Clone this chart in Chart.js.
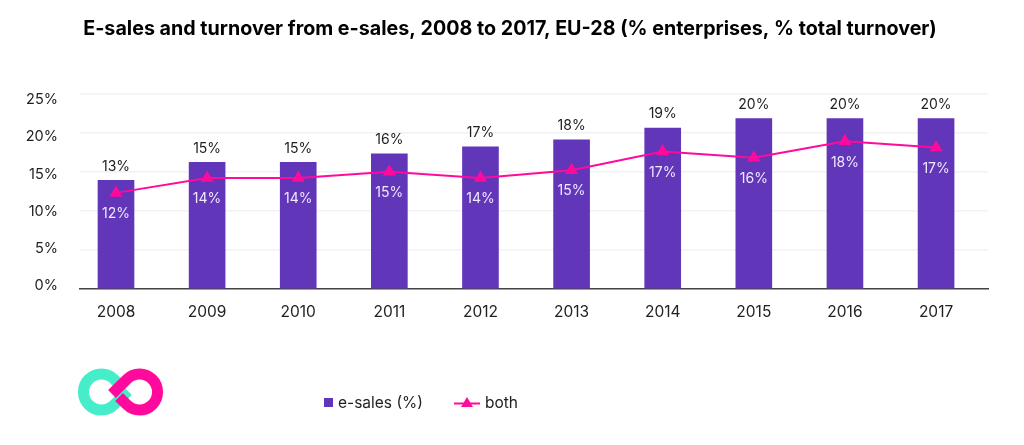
<!DOCTYPE html>
<html>
<head>
<meta charset="utf-8">
<title>E-sales</title>
<script src="https://cdn.jsdelivr.net/npm/chart.js@4"></script>
<style>
  html, body { margin: 0; background: #fff; overflow: hidden; }
  #box { position: relative; width: 1024px; height: 445px; font-family: Inter, sans-serif; color: #222; }
  #logo { position: absolute; left: 70px; top: 360px; }
  #legend { position: absolute; left: 324px; top: 393px; font-size: 15.5px; line-height: 20px; white-space: nowrap; }
  #legend span { position: absolute; top: 0; }
</style>
</head>
<body>
<div id="box">
  <canvas id="data-chart" width="1024" height="445"></canvas>
  <svg id="logo" width="100" height="64" viewBox="70 360 100 64" fill="none" stroke-width="11">
    <path d="M128 391 L 114.2 404.7 A 18 18 0 1 1 114.2 379.3 L 121 386" stroke="#45edc9"/>
    <path d="M112 394 L 126.8 379.3 A 18 18 0 1 1 126.8 404.7 L 119 397" stroke="#ff0a9c"/>
  </svg>
  <div id="legend"></div>
</div>
<script>
// Dati
const anni = ["2008","2009","2010","2011","2012","2013","2014","2015","2016","2017"];
const esales = [13.9, 16.2, 16.2, 17.3, 18.2, 19.1, 20.6, 21.8, 21.8, 21.8];
const both = [12.3, 14.2, 14.2, 15.0, 14.2, 15.2, 17.6, 16.8, 18.9, 18.1];
const esales_labels = ["13%","15%","15%","16%","17%","18%","19%","20%","20%","20%"];
const both_labels = ["12%","14%","14%","15%","14%","15%","17%","16%","18%","17%"];
const y_ticks = [0, 5, 10, 15, 20, 25];

const viola = '#6236b8';
const rosa = '#ff0a9c';
const testo = '#222222';

// etichette sopra le barre e sotto i punti
const etichette = {
	id: 'etichette',
	afterDatasetsDraw(chart) {
		const ctx = chart.ctx;
		ctx.save();
		ctx.font = '14px Inter, sans-serif';
		ctx.textAlign = 'center';
		ctx.textBaseline = 'middle';
		chart.getDatasetMeta(0).data.forEach(function(el, i) {
			ctx.fillStyle = testo;
			ctx.fillText(esales_labels[i], el.x, el.y - 14);
		});
		chart.getDatasetMeta(1).data.forEach(function(el, i) {
			ctx.fillStyle = '#f0e8ff';
			ctx.fillText(both_labels[i], el.x, el.y + 21);
		});
		ctx.restore();
	}
};

const ctx = document.getElementById('data-chart').getContext('2d');
const myChart = new Chart(ctx, {
	type: 'bar',
	data: {
		datasets: [{
			type: 'bar',
			label: 'e-sales (%)',
			backgroundColor: viola,
			barThickness: 36,
			yAxisID: 'y',
			data: esales.map(function(v, i) { return { x: i, y: v }; }),
			order: 2
		}, {
			type: 'line',
			label: 'both',
			borderColor: rosa,
			backgroundColor: rosa,
			borderWidth: 2,
			tension: 0,
			pointStyle: 'triangle',
			pointRadius: 5.5,
			yAxisID: 'y',
			data: both.map(function(v, i) { return { x: i, y: v }; }),
			order: 1
		}]
	},
	options: {
		responsive: false,
		animation: false,
		layout: { padding: { left: 0, right: 4, top: 0, bottom: 116 } },
		plugins: {
			legend: { display: false },
			tooltip: { enabled: false },
			title: {
				display: true,
				text: 'E-sales and turnover from e-sales, 2008 to 2017, EU-28 (% enterprises, % total turnover)',
				color: '#000',
				font: { family: 'Inter, sans-serif', size: 19.7, weight: '700' },
				padding: { top: 17, bottom: 53 }
			}
		},
		scales: {
			x: {
				type: 'linear',
				offset: false,
				min: -0.395,
				max: 9.57,
				grid: { display: false },
				border: { color: '#444', width: 1.5 },
				afterBuildTicks: function(scale) {
					scale.ticks = anni.map(function(a, i) { return { value: i }; });
				},
				afterFit: function(scale) { scale.height = 40; },
				ticks: {
					color: testo,
					font: { family: 'Inter, sans-serif', size: 15.5 },
					padding: 6,
					maxRotation: 0,
					autoSkip: false,
					callback: function(value) { return anni[value]; }
				}
			},
			y: {
				min: 0,
				max: 25,
				grid: { color: '#f2f2f2', lineWidth: 1.5, drawTicks: false },
				border: { display: false },
				afterBuildTicks: function(scale) {
					scale.ticks = y_ticks.map(function(v) { return { value: v }; });
				},
				afterFit: function(scale) { scale.width = 0; },
				ticks: { display: false }
			},
			// le etichette dell'asse y non sono allineate alla griglia
			yLabels: {
				position: 'left',
				min: -0.4,
				max: 25.8,
				grid: { display: false },
				border: { display: false },
				afterBuildTicks: function(scale) {
					scale.ticks = y_ticks.map(function(v) { return { value: v }; });
				},
				afterFit: function(scale) { scale.width = 80; },
				ticks: {
					color: testo,
					font: { family: 'Inter, sans-serif', size: 14.5 },
					padding: 14,
					callback: function(value) { return value + '%'; }
				}
			},
			// asse vuoto: margine a destra dell'area del grafico
			margine: {
				position: 'right',
				grid: { display: false },
				border: { display: false },
				ticks: { display: false },
				afterFit: function(scale) { scale.width = 32; }
			}
		}
	},
	plugins: [etichette]
});

// Legenda
const leg = document.getElementById('legend');
leg.innerHTML =
	'<span style="left:0;top:5px;width:9px;height:9px;background:' + viola + '"></span>' +
	'<span style="left:14px">' + myChart.data.datasets[0].label + '</span>' +
	'<svg style="position:absolute;left:130px;top:3px" width="26" height="14"><line x1="0" y1="7.5" x2="26" y2="7.5" stroke="' + rosa + '" stroke-width="2"/><path d="M13 1 L19 11 L7 11 Z" fill="' + rosa + '"/></svg>' +
	'<span style="left:161px">' + myChart.data.datasets[1].label + '</span>';
</script>
</body>
</html>
